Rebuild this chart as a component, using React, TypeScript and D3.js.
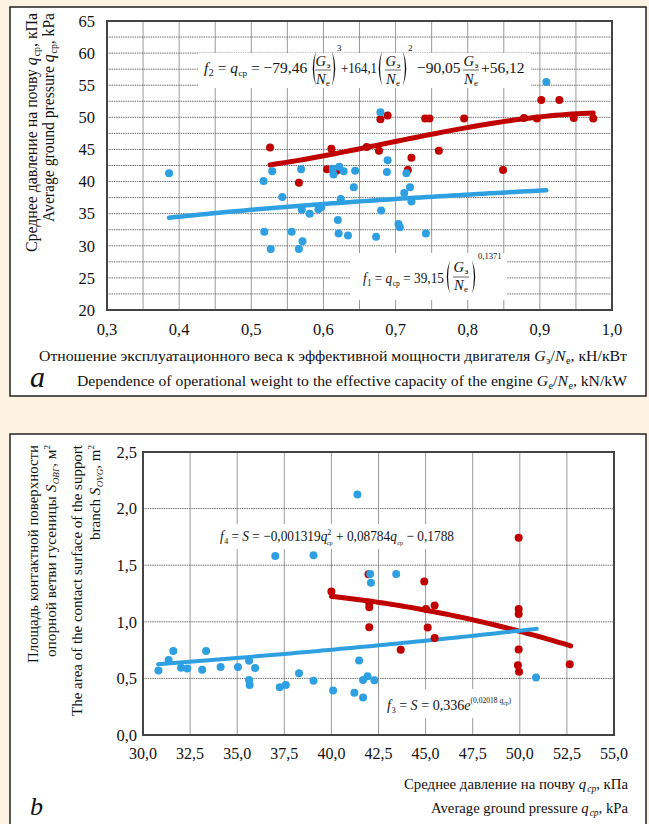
import React from 'react';
import * as d3 from 'd3';

const W = 649;
const H = 824;
const FONT = '"Liberation Serif", "Times New Roman", serif';
const BG = '#fbf2e1';
const BLUE = '#2ea0e2';
const RED = '#c00000';
const GRID_V = '#9a9a9a';
const GRID_H = '#6f6f6f';

// ---- chart a: ground pressure vs weight/power ratio ----
const topXTicks = [0.3, 0.4, 0.5, 0.6, 0.7, 0.8, 0.9, 1.0];
const topYTicks = [20, 25, 30, 35, 40, 45, 50, 55, 60, 65];
const topXGrid = d3.range(0.3, 1.0001, 0.05);
const topYGrid = d3.range(20, 65.001, 2.5);

const topBlue: [number, number][] = [
  [0.386, 41.3], [0.517, 40.1], [0.529, 41.6], [0.518, 32.2], [0.527, 29.5],
  [0.543, 37.6], [0.556, 32.2], [0.569, 41.9], [0.570, 35.6], [0.571, 30.7],
  [0.566, 29.5], [0.581, 35.0], [0.593, 35.7], [0.597, 36.0], [0.613, 42.0],
  [0.614, 41.1], [0.622, 42.3], [0.628, 41.6], [0.624, 37.3], [0.620, 34.0],
  [0.621, 31.9], [0.634, 31.6], [0.642, 39.1], [0.644, 41.7], [0.673, 31.4],
  [0.680, 35.5], [0.679, 50.8], [0.689, 43.3], [0.688, 41.5], [0.704, 33.4],
  [0.706, 32.9], [0.712, 38.2], [0.715, 41.3], [0.720, 39.1], [0.722, 36.9],
  [0.742, 31.9], [0.909, 55.5],
];
const topRed: [number, number][] = [
  [0.526, 45.3], [0.566, 39.8], [0.611, 45.1], [0.605, 41.9], [0.618, 41.7],
  [0.660, 45.4], [0.677, 44.8], [0.679, 49.7], [0.689, 50.3], [0.717, 41.8],
  [0.722, 43.7], [0.741, 49.8], [0.747, 49.8], [0.760, 44.8], [0.795, 49.8],
  [0.849, 41.8], [0.878, 49.9], [0.896, 49.8], [0.902, 52.7], [0.927, 52.7],
  [0.947, 49.9], [0.974, 49.8],
];
// f1 = a * x^b (blue), f2 = cubic (red), coefficients as printed on the chart
const f1Coef = [39.15, 0.1371];
const f1Range = [0.386, 0.909];
const f2Coef = [-79.46, 164.1, -90.05, 56.12];
const f2Range = [0.526, 0.974];

// ---- chart b: contact area vs ground pressure ----
const botXTicks = [30, 32.5, 35, 37.5, 40, 42.5, 45, 47.5, 50, 52.5, 55];
const botYTicks = [0, 0.5, 1.0, 1.5, 2.0, 2.5];

const botBlue: [number, number][] = [
  [30.82, 0.570], [31.36, 0.662], [31.61, 0.743], [32.02, 0.594], [32.35, 0.588],
  [33.14, 0.576], [33.35, 0.743], [34.12, 0.600], [35.04, 0.600], [35.63, 0.656],
  [35.63, 0.486], [35.66, 0.441], [35.95, 0.591], [37.02, 1.581], [37.26, 0.421],
  [37.58, 0.441], [38.28, 0.546], [39.05, 1.587], [39.05, 0.480], [40.09, 0.394],
  [41.22, 0.373], [41.38, 2.124], [41.47, 0.659], [41.68, 0.331], [41.68, 0.486],
  [41.92, 0.519], [42.06, 1.423], [42.10, 1.345], [42.28, 0.483], [43.44, 1.423],
  [50.86, 0.507],
];
const botRed: [number, number][] = [
  [40.0, 1.268], [41.97, 1.420], [42.01, 1.163], [42.01, 1.128], [42.01, 0.952],
  [43.68, 0.752], [44.93, 1.357], [45.02, 1.113], [45.11, 0.949], [45.48, 1.143],
  [45.48, 0.856], [49.94, 1.742], [49.94, 1.113], [49.94, 1.068], [49.94, 0.755],
  [49.90, 0.617], [49.96, 0.558], [52.65, 0.626],
];
// f3 = a * e^(b q) (blue), f4 = quadratic (red)
const f3Coef = [0.336, 0.02018];
const f3Range = [30.8, 50.9];
const f4Coef = [-0.001319, 0.08784, -0.1788];
const f4Range = [40.0, 52.7];

const comma = (f: string) => (v: number) => d3.format(f)(v).replace('.', ',');

const sample = (r: number[], n = 60) => d3.range(n + 1).map(i => r[0] + (r[1] - r[0]) * i / n);

const Paren = ({ x, y1, y2, left }: { x: number; y1: number; y2: number; left: boolean }) => {
  const m = (y1 + y2) / 2;
  const d = left
    ? `M${x + 5},${y1} Q${x - 1.5},${m} ${x + 5},${y2} Q${x + 1.2},${m} ${x + 5},${y1} Z`
    : `M${x},${y1} Q${x + 6.5},${m} ${x},${y2} Q${x + 3.8},${m} ${x},${y1} Z`;
  return <path d={d} fill="#111" />;
};

const Frac = ({ cx, yNum, yBar, yDen, sub2 = 'e' }: { cx: number; yNum: number; yBar: number; yDen: number; sub2?: string }) => (
  <g fontSize={14.5} textAnchor="middle">
    <text x={cx} y={yNum}>
      <tspan fontStyle="italic">G</tspan>
      <tspan fontSize={9} dx={0.5} baselineShift="-2">э</tspan>
    </text>
    <line x1={cx - 8} x2={cx + 8} y1={yBar} y2={yBar} stroke="#222" strokeWidth={0.7} />
    <text x={cx} y={yDen}>
      <tspan fontStyle="italic">N</tspan>
      <tspan fontSize={9} dx={0.5} baselineShift="-2">{sub2}</tspan>
    </text>
  </g>
);

function ChartA() {
  const x = d3.scaleLinear().domain([0.3, 1.0]).range([107, 612]);
  const y = d3.scaleLinear().domain([20, 65]).range([310, 21]);
  const f1 = (v: number) => f1Coef[0] * Math.pow(v, f1Coef[1]);
  const f2 = (v: number) => f2Coef[0] * v ** 3 + f2Coef[1] * v ** 2 + f2Coef[2] * v + f2Coef[3];
  const line = d3.line<number>();
  const blueD = line(sample(f1Range).map(v => [x(v), y(f1(v))]) as any);
  const redD = line(sample(f2Range).map(v => [x(v), y(f2(v))]) as any);
  const fx = comma('.1f');

  return (
    <g fontFamily={FONT} fill="#111">
      <rect x={10} y={7} width={636} height={389} fill="#fff" stroke="#222" strokeWidth={1.5} />
      {/* grid */}
      {topXGrid.map((v, i) => (
        <line key={'vx' + i} x1={x(v)} x2={x(v)} y1={y(20)} y2={y(65)} stroke={GRID_V} strokeWidth={1} />
      ))}
      {topYGrid.map((v, i) => (
        <line key={'hy' + i} x1={x(0.3)} x2={x(1.0)} y1={y(v)} y2={y(v)} stroke={GRID_H} strokeWidth={1} strokeDasharray="1.5 0.8" />
      ))}
      {/* formula boxes */}
      <rect x={198} y={53} width={333} height={35} fill="#fff" />
      <rect x={351} y={253} width={156} height={47} fill="#fff" />
      <rect x={x(0.3)} y={y(65)} width={x(1.0) - x(0.3)} height={y(20) - y(65)} fill="none" stroke="#444" strokeWidth={2} />

      <path d={redD || ''} fill="none" stroke={RED} strokeWidth={5} strokeLinecap="round" />
      <path d={blueD || ''} fill="none" stroke={BLUE} strokeWidth={4.5} strokeLinecap="round" />
      {topRed.map((d, i) => <circle key={'r' + i} cx={x(d[0])} cy={y(d[1])} r={4} fill={RED} />)}
      {topBlue.map((d, i) => <circle key={'b' + i} cx={x(d[0])} cy={y(d[1])} r={4} fill={BLUE} />)}

      {/* ticks */}
      {topXTicks.map(v => (
        <text key={'tx' + v} x={x(v)} y={335} fontSize={16.5} textAnchor="middle">{fx(v)}</text>
      ))}
      {topYTicks.map(v => (
        <text key={'ty' + v} x={95} y={y(v)} dy="0.35em" fontSize={16.5} textAnchor="end">{v}</text>
      ))}

      {/* y title */}
      <text transform="translate(37,13) rotate(-90)" textAnchor="end" fontSize={16} textLength={239} lengthAdjust="spacingAndGlyphs">
        Среднее давление на почву <tspan fontStyle="italic">q</tspan>
        <tspan fontSize={10} dx={1} baselineShift="-3">ср</tspan>, кПа
      </text>
      <text transform="translate(54,13) rotate(-90)" textAnchor="end" fontSize={16} textLength={209} lengthAdjust="spacingAndGlyphs">
        Average ground pressure <tspan fontStyle="italic">q</tspan>
        <tspan fontSize={10} dx={1} baselineShift="-3">ср</tspan>, kPa
      </text>

      {/* x title */}
      <text x={627} y={361} textAnchor="end" fontSize={15.5} textLength={588} lengthAdjust="spacingAndGlyphs">
        Отношение эксплуатационного веса к эффективной мощности двигателя <tspan fontStyle="italic">G</tspan>
        <tspan fontSize={10} dx={0.5} baselineShift="-3">э</tspan>/<tspan fontStyle="italic">N</tspan>
        <tspan fontSize={10} dx={0.5} baselineShift="-3">e</tspan>, кН/кВт
      </text>
      <text x={627} y={386} textAnchor="end" fontSize={15.5} textLength={550} lengthAdjust="spacingAndGlyphs">
        Dependence of operational weight to the effective capacity of the engine <tspan fontStyle="italic">G</tspan>
        <tspan fontSize={10} dx={0.5} baselineShift="-3">e</tspan>/<tspan fontStyle="italic">N</tspan>
        <tspan fontSize={10} dx={0.5} baselineShift="-3">e</tspan>, kN/kW
      </text>
      <text x={30} y={387} fontSize={30} fontStyle="italic">a</text>

      {/* f2 formula */}
      <g fontSize={15.5}>
        <text x={204} y={73}>
          <tspan fontStyle="italic">f</tspan>
          <tspan fontSize={10} dx={0.5} baselineShift="-3">2</tspan> = <tspan fontStyle="italic">q</tspan>
          <tspan fontSize={9} dx={0.5} baselineShift="-3">ср</tspan> = −79,46
        </text>
        <Paren x={311} y1={51} y2={86} left />
        <Frac cx={323} yNum={66} yBar={70} yDen={84} />
        <Paren x={332} y1={51} y2={86} left={false} />
        <text x={337} y={51} fontSize={9}>3</text>
        <text x={341} y={73} textLength={36} lengthAdjust="spacingAndGlyphs">+164,1</text>
        <Paren x={377} y1={51} y2={86} left />
        <Frac cx={393} yNum={66} yBar={70} yDen={84} />
        <Paren x={403} y1={51} y2={86} left={false} />
        <text x={408} y={51} fontSize={9}>2</text>
        <text x={417} y={73}>−90,05</text>
        <Frac cx={471} yNum={66} yBar={70} yDen={84} />
        <text x={481} y={73}>+56,12</text>
      </g>

      {/* f1 formula */}
      <g fontSize={15.5}>
        <text x={363} y={283} textLength={81} lengthAdjust="spacingAndGlyphs">
          <tspan fontStyle="italic">f</tspan>
          <tspan fontSize={10} dx={0.5} baselineShift="-3">1</tspan> = <tspan fontStyle="italic">q</tspan>
          <tspan fontSize={9} dx={0.5} baselineShift="-3">ср</tspan> = 39,15
        </text>
        <Paren x={445} y1={260} y2={294} left />
        <Frac cx={461} yNum={272} yBar={277} yDen={290} />
        <Paren x={472} y1={260} y2={294} left={false} />
        <text x={478} y={259} fontSize={8.5}>0,1371</text>
      </g>
    </g>
  );
}

function ChartB() {
  const x = d3.scaleLinear().domain([30, 55]).range([143, 614]);
  const y = d3.scaleLinear().domain([0, 2.5]).range([735, 452]);
  const f3 = (v: number) => f3Coef[0] * Math.exp(f3Coef[1] * v);
  const f4 = (v: number) => f4Coef[0] * v * v + f4Coef[1] * v + f4Coef[2];
  const line = d3.line<number>();
  const blueD = line(sample(f3Range).map(v => [x(v), y(f3(v))]) as any);
  const redD = line(sample(f4Range).map(v => [x(v), y(f4(v))]) as any);
  const fmt = comma('.1f');

  return (
    <g fontFamily={FONT} fill="#111">
      <rect x={10} y={434} width={636} height={400} fill="#fff" stroke="#222" strokeWidth={1.5} />
      {botXTicks.map(v => (
        <line key={'vx' + v} x1={x(v)} x2={x(v)} y1={y(0)} y2={y(2.5)} stroke={GRID_V} strokeWidth={1} />
      ))}
      {botYTicks.map(v => (
        <line key={'hy' + v} x1={x(30)} x2={x(55)} y1={y(v)} y2={y(v)} stroke={GRID_H} strokeWidth={1} strokeDasharray="1.5 0.8" />
      ))}
      <rect x={216} y={524} width={242} height={25} fill="#fff" />
      <rect x={381} y={689} width={134} height={29} fill="#fff" />
      <rect x={x(30)} y={y(2.5)} width={x(55) - x(30)} height={y(0) - y(2.5)} fill="none" stroke="#444" strokeWidth={2} />

      <path d={redD || ''} fill="none" stroke={RED} strokeWidth={5} strokeLinecap="round" />
      <path d={blueD || ''} fill="none" stroke={BLUE} strokeWidth={4} strokeLinecap="round" />
      {botRed.map((d, i) => <circle key={'r' + i} cx={x(d[0])} cy={y(d[1])} r={4} fill={RED} />)}
      {botBlue.map((d, i) => <circle key={'b' + i} cx={x(d[0])} cy={y(d[1])} r={4} fill={BLUE} />)}

      {botXTicks.map(v => (
        <text key={'tx' + v} x={x(v)} y={759} fontSize={16} textAnchor="middle">{fmt(v)}</text>
      ))}
      {botYTicks.map(v => (
        <text key={'ty' + v} x={137} y={y(v)} dy="0.35em" fontSize={16.5} textAnchor="end">{fmt(v)}</text>
      ))}

      {/* y title */}
      <text transform="translate(38,445) rotate(-90)" textAnchor="end" fontSize={15} textLength={218} lengthAdjust="spacingAndGlyphs">
        Площадь контактной поверхности
      </text>
      <text transform="translate(56,445) rotate(-90)" textAnchor="end" fontSize={15} textLength={212} lengthAdjust="spacingAndGlyphs">
        опорной ветви гусеницы <tspan fontStyle="italic">S</tspan>
        <tspan fontSize={9} dx={0.5} baselineShift="-3" fontStyle="italic">ОВГ</tspan>, м<tspan fontSize={9} baselineShift="6">2</tspan>
      </text>
      <text transform="translate(82,445) rotate(-90)" textAnchor="end" fontSize={15} textLength={271} lengthAdjust="spacingAndGlyphs">
        The area of the contact surface of the support
      </text>
      <text transform="translate(100,445) rotate(-90)" textAnchor="end" fontSize={15} textLength={95} lengthAdjust="spacingAndGlyphs">
        branch <tspan fontStyle="italic">S</tspan>
        <tspan fontSize={9} dx={0.5} baselineShift="-3" fontStyle="italic">OVG</tspan>, m<tspan fontSize={9} baselineShift="6">2</tspan>
      </text>

      {/* x title */}
      <text x={628} y={789} textAnchor="end" fontSize={15.5} textLength={224} lengthAdjust="spacingAndGlyphs">
        Среднее давление на почву <tspan fontStyle="italic">q</tspan>
        <tspan fontSize={10} dx={1} baselineShift="-3" fontStyle="italic">ср</tspan>, кПа
      </text>
      <text x={628} y={813} textAnchor="end" fontSize={15.5} textLength={197} lengthAdjust="spacingAndGlyphs">
        Average ground pressure <tspan fontStyle="italic">q</tspan>
        <tspan fontSize={10} dx={1} baselineShift="-3" fontStyle="italic">ср</tspan>, kPa
      </text>
      <text x={30} y={815} fontSize={26} fontStyle="italic">b</text>

      {/* f4 formula */}
      <text x={220} y={541} fontSize={15} textLength={234} lengthAdjust="spacingAndGlyphs">
        <tspan fontStyle="italic">f</tspan>
        <tspan fontSize={9} dx={0.5} baselineShift="-3">4</tspan> = <tspan fontStyle="italic">S</tspan> = −0,001319<tspan fontStyle="italic">q</tspan>
        <tspan fontSize={9} baselineShift="6">2</tspan>
        <tspan fontSize={7} dx={-5} baselineShift="-4">ср</tspan> + 0,08784<tspan fontStyle="italic">q</tspan>
        <tspan fontSize={7} dx={0.5} baselineShift="-4">ср</tspan> − 0,1788
      </text>

      {/* f3 formula */}
      <text x={387} y={710} fontSize={15} textLength={124} lengthAdjust="spacingAndGlyphs">
        <tspan fontStyle="italic">f</tspan>
        <tspan fontSize={9} dx={0.5} baselineShift="-3">3</tspan> = <tspan fontStyle="italic">S</tspan> = 0,336<tspan fontStyle="italic">e</tspan>
        <tspan fontSize={8} baselineShift="7">(0,02018 </tspan>
        <tspan fontSize={8} baselineShift="7" fontStyle="italic">q</tspan>
        <tspan fontSize={6} baselineShift="5">ср</tspan>
        <tspan fontSize={8} baselineShift="7">)</tspan>
      </text>
    </g>
  );
}

export default function App() {
  return (
    <svg
      width={W}
      height={H}
      viewBox={`0 0 ${W} ${H}`}
      style={{ position: 'absolute', left: 0, top: 0, display: 'block', background: BG }}
    >
      <rect x={0} y={0} width={W} height={H} fill={BG} />
      <ChartA />
      <ChartB />
    </svg>
  );
}
